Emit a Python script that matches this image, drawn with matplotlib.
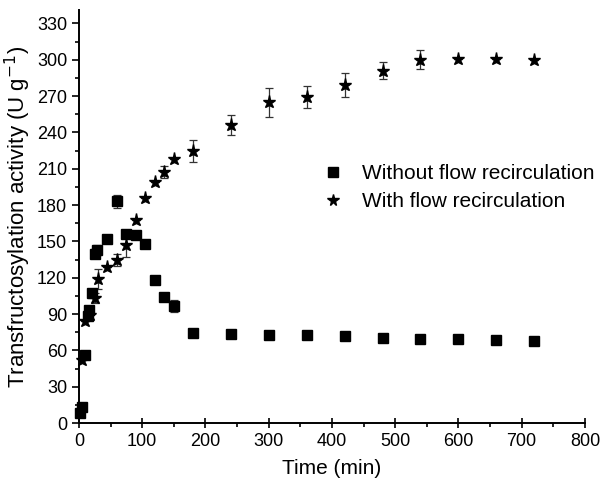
import matplotlib

matplotlib.use("Agg")
import matplotlib.pyplot as plt  # noqa: E402
from matplotlib.lines import Line2D  # noqa: E402
from matplotlib.ticker import MultipleLocator  # noqa: E402

plt.rcParams["font.family"] = ["Liberation Sans", "DejaVu Sans"]

# Without flow recirculation (squares)
sq_time = [2, 5, 10, 14, 16, 20, 25, 28, 45, 60, 75, 90, 105, 120, 135, 150,
           180, 240, 300, 360, 420, 480, 540, 600, 660, 720]
sq_act = [8, 13, 56, 88, 93, 107, 140, 143, 152, 183, 156, 155, 148, 118, 104, 97,
          74.5, 73.5, 73, 73, 72, 70.5, 69.5, 69, 68.5, 67.5]
sq_err = [0, 0, 0, 0, 3, 4, 4, 4, 0, 5, 0, 0, 0, 0, 0, 5,
          0, 0, 0, 0, 0, 0, 0, 0, 0, 0]

# With flow recirculation (stars)
st_time = [5, 10, 18, 26, 30, 45, 60, 75, 90, 105, 120, 135, 150, 180,
           240, 300, 360, 420, 480, 540, 600, 660, 720]
st_act = [52, 84, 89, 103, 119, 129, 135, 147, 168, 186, 199, 207, 218, 225,
          246, 265, 269, 279, 291, 300, 300.5, 300.5, 299.5]
st_err = [0, 0, 3, 4, 8, 0, 5, 10, 0, 0, 0, 5, 0, 9,
          8, 12, 9, 10, 7, 8, 0, 0, 0]

labels = ["Without flow recirculation", "With flow recirculation"]

fig = plt.figure(figsize=(6.03, 4.84), dpi=100)
ax = fig.add_axes([0.131, 0.126, 0.839, 0.853])

err_kw = dict(ecolor="#333333", elinewidth=0.9, capsize=3, capthick=0.9, linestyle="none")
ax.errorbar(sq_time, sq_act, yerr=sq_err, marker="s", ms=7.5, color="black",
            clip_on=False, **err_kw)
ax.errorbar(st_time, st_act, yerr=st_err, marker="*", ms=9.5, color="black",
            clip_on=False, **err_kw)

ax.set_xlim(0, 800)
ax.set_ylim(0, 341)
ax.xaxis.set_major_locator(MultipleLocator(100))
ax.xaxis.set_minor_locator(MultipleLocator(50))
ax.yaxis.set_major_locator(MultipleLocator(30))
ax.yaxis.set_minor_locator(MultipleLocator(15))
ax.tick_params(axis="x", which="major", direction="inout", length=7, width=1.2, labelsize=13)
ax.tick_params(axis="x", which="minor", direction="out", length=3, width=1.2)
ax.tick_params(axis="y", which="major", direction="out", length=5, width=1.2, labelsize=13)
ax.tick_params(axis="y", which="minor", direction="out", length=3, width=1.2)
for side in ("top", "right"):
    ax.spines[side].set_visible(False)
for side in ("left", "bottom"):
    ax.spines[side].set_linewidth(1.4)

ax.set_xlabel("Time (min)", fontsize=15, labelpad=7)
ax.set_ylabel("Transfructosylation activity (U g$^{-1}$)", fontsize=16, labelpad=3)

handles = [
    Line2D([], [], marker="s", ms=6.5, color="black", linestyle="none"),
    Line2D([], [], marker="*", ms=8.5, color="black", linestyle="none"),
]
ax.legend(handles, labels, loc="center left", bbox_to_anchor=(0.46, 0.57), frameon=False,
          fontsize=15, borderpad=0, handlelength=1.0, handletextpad=0.9,
          labelspacing=0.45)

fig.savefig("out.png", dpi=100)
